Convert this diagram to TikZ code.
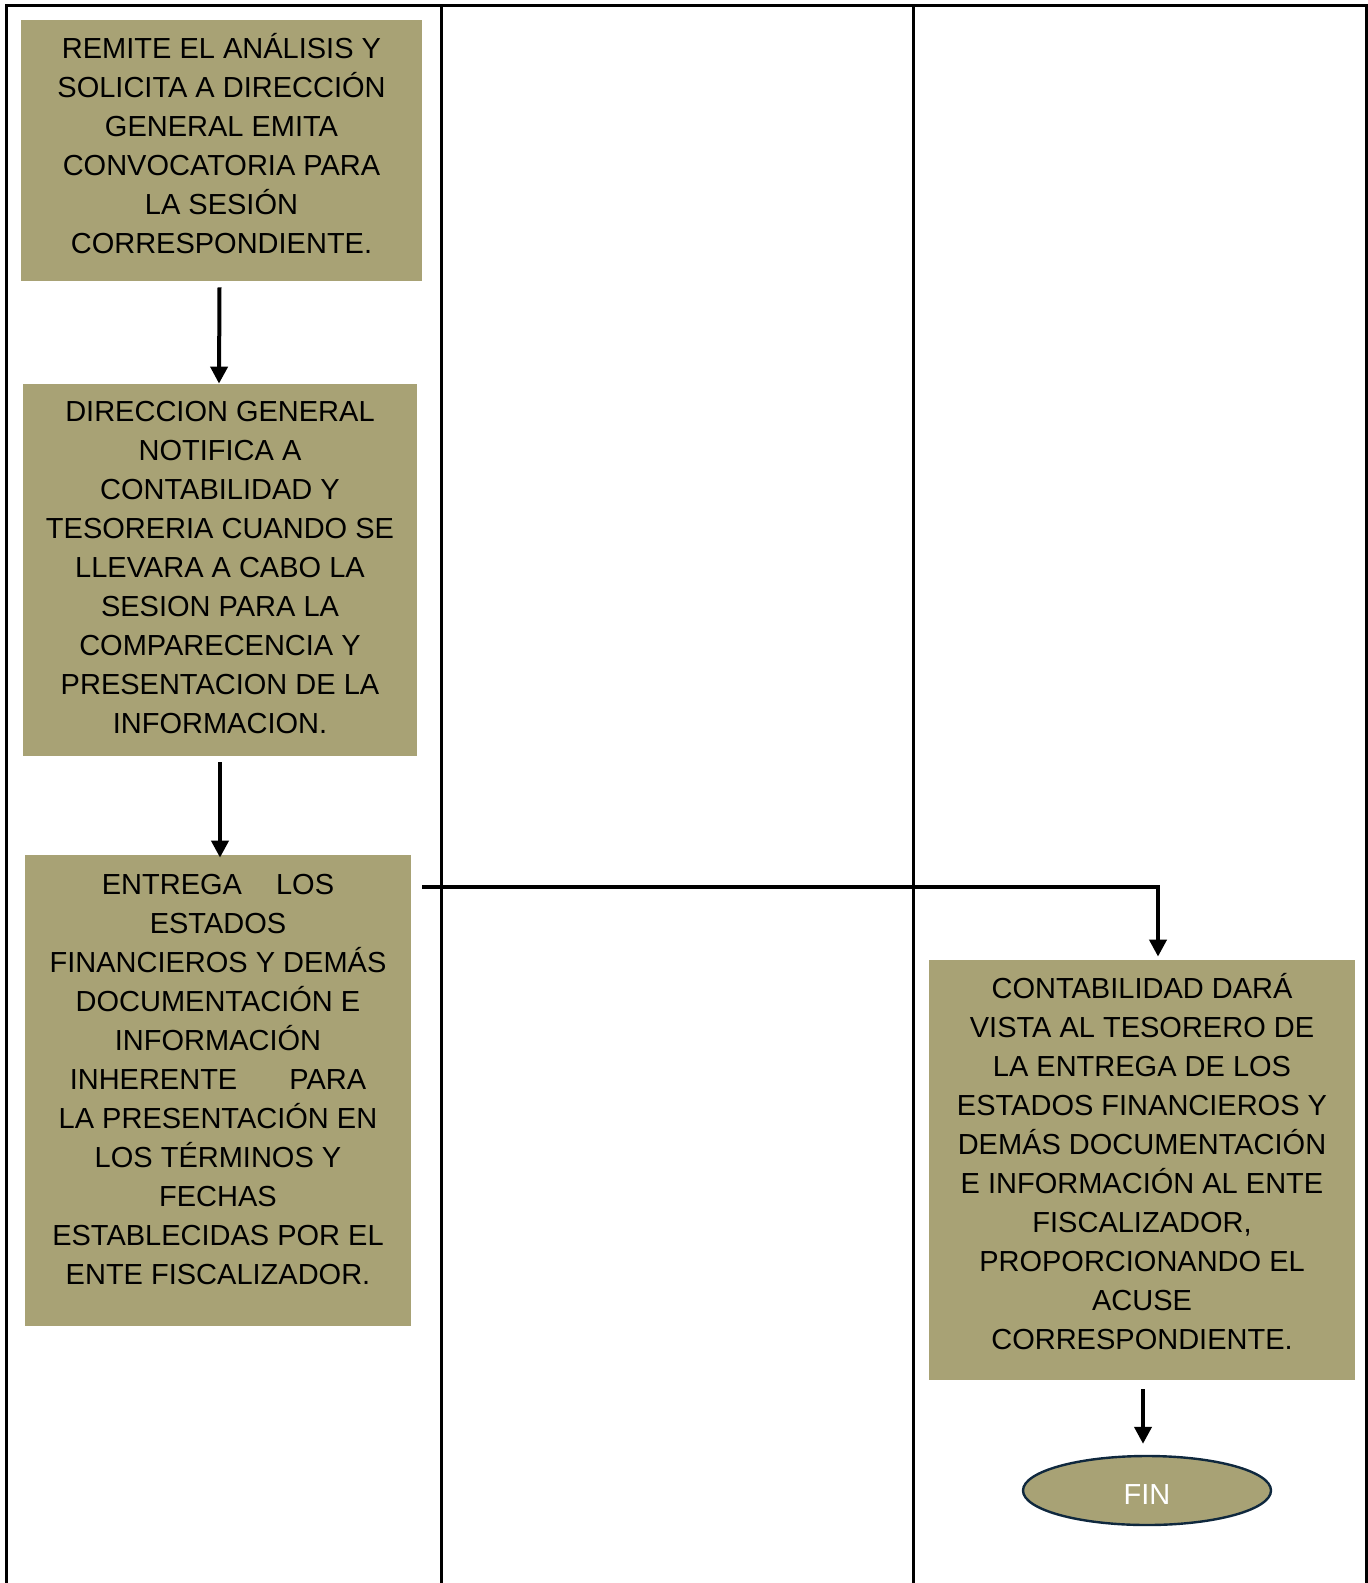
\documentclass[tikz,border=0pt]{standalone}
\usepackage{fontspec}
\setmainfont{Liberation Sans}
\usepackage{tikz}
\usetikzlibrary{shapes,arrows.meta,positioning,calc}
\definecolor{caqui}{RGB}{168,162,117}
\definecolor{borde}{RGB}{15,40,62}

\begin{document}
\begin{tikzpicture}[x=0.5pt,y=-0.5pt,
		caja/.style={rectangle, fill=caqui, inner sep=0pt},
		texto/.style={inner sep=0pt, align=center, font=\fontsize{14.5}{19.5}\selectfont},
		flecha/.style={line width=2pt, -{Triangle[length=8.5pt,width=8.5pt]}},
		marco/.style={line width=1.5pt}]
	\useasboundingbox (0,0) rectangle (1368,1583);
	% carriles
	\draw[marco] (6,1583) -- (6,6) -- (1366,6) -- (1366,1583);
	\draw[marco] (441,6) -- (441,1583);
	\draw[marco] (913,6) -- (913,1583);
	% actividades
	\node[caja, minimum width=200.5pt, minimum height=130.5pt] (b1) at (221.5,150.5) {};
	\node[texto] (t1) at ($(b1)+(0,-6.5)$)
		{REMITE EL ANÁLISIS Y\\SOLICITA A DIRECCIÓN\\GENERAL EMITA\\CONVOCATORIA PARA\\LA SESIÓN\\CORRESPONDIENTE.};
	\node[caja, minimum width=197pt, minimum height=186pt] (b2) at (220,570) {};
	\node[texto] (t2) at ($(b2)+(0,-2)$)
		{DIRECCION GENERAL\\NOTIFICA A\\CONTABILIDAD Y\\TESORERIA CUANDO SE\\LLEVARA A CABO LA\\SESION PARA LA\\COMPARECENCIA Y\\PRESENTACION DE LA\\INFORMACION.};
	\node[caja, minimum width=193pt, minimum height=235.5pt] (b3) at (218,1090.5) {};
	\node[texto] (t3) at ($(b3)+(0,-11)$)
		{ENTREGA\hspace{13pt} LOS\\ESTADOS\\FINANCIEROS Y DEMÁS\\DOCUMENTACIÓN E\\INFORMACIÓN\\INHERENTE\hspace{22pt} PARA\\LA PRESENTACIÓN EN\\LOS TÉRMINOS Y\\FECHAS\\ESTABLECIDAS POR EL\\ENTE FISCALIZADOR.};
	\node[caja, minimum width=213pt, minimum height=210pt] (b4) at (1142,1170) {};
	\node[texto] (t4) at ($(b4)+(0,-8.5)$)
		{CONTABILIDAD DARÁ\\VISTA AL TESORERO DE\\LA ENTREGA DE LOS\\ESTADOS FINANCIEROS Y\\DEMÁS DOCUMENTACIÓN\\E INFORMACIÓN AL ENTE\\FISCALIZADOR,\\PROPORCIONANDO EL\\ACUSE\\CORRESPONDIENTE.};
	\node[ellipse, draw=borde, line width=1.2pt, fill=caqui, minimum width=124pt, minimum height=34.5pt, inner sep=0pt,
		text=white, text height=14.4pt, text depth=0pt, font=\fontsize{14.5}{18}\selectfont] (fin) at (1147,1490.5) {FIN};
	% conectores
	\coordinate (c3) at (422,887);
	\draw[flecha] ($(b1.south)+(-2,6)$) -- ($(b2.north)+(-1,0)$);
	\draw[flecha] ($(b2.south)+(0,6)$) -- ($(b3.north)+(2,3)$);
	\draw[flecha] (c3) -| ($(b4.north)+(16,-3)$);
	\draw[flecha] ($(b4.south)+(1,9)$) -- ($(fin.north -| b4.south)+(1,-11)$);
\end{tikzpicture}
\end{document}
